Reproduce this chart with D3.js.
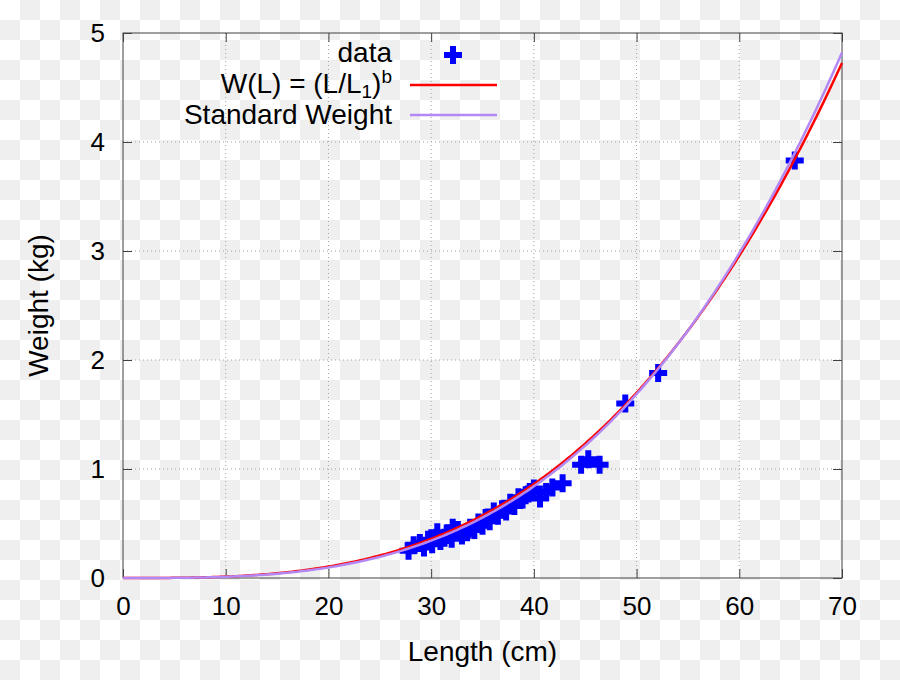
<!DOCTYPE html>
<html><head><meta charset="utf-8">
<script src="https://cdn.jsdelivr.net/npm/d3@7"></script>
<style>body{margin:0;}svg{display:block;}text{font-family:"Liberation Sans",Arial,sans-serif;fill:#000;}</style>
</head><body>
<script>
// Measured data (length cm, weight kg)
const lengths = [27.8,28.3,28.9,29.3,29.7,30.1,30.5,30.6,30.9,31.3,31.6,32.0,32.1,32.6,33.0,33.5,33.8,34.2,34.6,35.0,35.3,35.7,36.1,36.5,36.9,37.3,37.7,38.1,38.5,38.9,39.2,39.6,40.0,40.6,41.2,41.8,42.8,44.6,45.3,46.4,48.9,52.1,65.4];
const weights = [0.25,0.30,0.32,0.28,0.35,0.31,0.37,0.42,0.34,0.37,0.41,0.36,0.46,0.44,0.39,0.42,0.46,0.44,0.51,0.48,0.55,0.52,0.61,0.57,0.63,0.61,0.69,0.66,0.74,0.72,0.76,0.79,0.82,0.73,0.79,0.83,0.87,1.04,1.09,1.04,1.60,1.88,3.83];
// Model parameters
const fitParams = {L1: 42.0, b: 3.04};           // W(L) = (L/L1)^b
const stdParams = {a: 8.44e-6, b: 3.12};         // Standard weight W = a*L^b
const xTicks = [0,10,20,30,40,50,60,70];
const yTicks = [0,1,2,3,4,5];
const legendLabels = ["data", "Standard Weight"];

const W = 900, H = 680;
const m = {l:123, r:58, t:33, b:102};
const svg = d3.select("body").append("svg").attr("width",W).attr("height",H);

// checkerboard background
const defs = svg.append("defs");
const pat = defs.append("pattern").attr("id","chk").attr("width",40).attr("height",40).attr("patternUnits","userSpaceOnUse");
pat.append("rect").attr("width",40).attr("height",40).attr("fill","#ffffff");
pat.append("rect").attr("x",20).attr("y",0).attr("width",20).attr("height",20).attr("fill","#efefef");
pat.append("rect").attr("x",0).attr("y",20).attr("width",20).attr("height",20).attr("fill","#efefef");
svg.append("rect").attr("width",W).attr("height",H).attr("fill","url(#chk)");

const x = d3.scaleLinear().domain([0,70]).range([m.l, W-m.r]);
const y = d3.scaleLinear().domain([0,5]).range([H-m.b, m.t]);
const x0=x(0), x1=x(70), y0=y(0), y1=y(5);

// grid
const grid = svg.append("g").attr("stroke","#a0a0a0").attr("stroke-width",1).attr("stroke-dasharray","1,3");
xTicks.slice(1,-1).forEach(t=>grid.append("line").attr("x1",x(t)).attr("x2",x(t)).attr("y1",y0).attr("y2",y1));
yTicks.slice(1,-1).forEach(t=>grid.append("line").attr("x1",x0).attr("x2",x1).attr("y1",y(t)).attr("y2",y(t)));

// axes with inward ticks
const tl = 9, tfs = 26;
const axB = svg.append("g").attr("transform",`translate(0,${y0})`)
  .call(d3.axisBottom(x).tickValues(xTicks).tickFormat(d3.format("d")).tickSizeInner(-tl).tickSizeOuter(0).tickPadding(19));
const axT = svg.append("g").attr("transform",`translate(0,${y1})`)
  .call(d3.axisTop(x).tickValues(xTicks).tickSizeInner(-tl).tickSizeOuter(0).tickFormat(""));
const axL = svg.append("g").attr("transform",`translate(${x0},0)`)
  .call(d3.axisLeft(y).tickValues(yTicks).tickFormat(d3.format("d")).tickSizeInner(-tl).tickSizeOuter(0).tickPadding(18));
const axR = svg.append("g").attr("transform",`translate(${x1},0)`)
  .call(d3.axisRight(y).tickValues(yTicks).tickSizeInner(-tl).tickSizeOuter(0).tickFormat(""));
[axB,axT,axL,axR].forEach(g=>{
  g.selectAll(".domain").remove();
  g.selectAll(".tick line").attr("stroke","#404040");
  g.selectAll("text").attr("font-size",tfs).attr("font-family","Liberation Sans, Arial, sans-serif").attr("fill","#000");
});
svg.append("rect").attr("x",x0).attr("y",y1).attr("width",x1-x0).attr("height",y0-y1)
  .attr("fill","none").attr("stroke","#404040").attr("stroke-width",1);

// data markers
const plusPath = s => `M${-s},0H${s}M0,${-s}V${s}`;
svg.append("g").selectAll("path").data(lengths.map((L,i)=>[L,weights[i]])).join("path")
  .attr("transform",d=>`translate(${x(d[0])},${y(d[1])})`)
  .attr("d",plusPath(9)).attr("stroke","#0000ff").attr("stroke-width",6).attr("fill","none");

// curves
const Ls = d3.range(0,70.01,0.25);
const line = d3.line().x(d=>x(d[0])).y(d=>y(d[1]));
svg.append("path").datum(Ls.map(L=>[L,Math.pow(L/fitParams.L1,fitParams.b)]))
  .attr("d",line).attr("fill","none").attr("stroke","#ff0000").attr("stroke-width",2.5);
svg.append("path").datum(Ls.map(L=>[L,stdParams.a*Math.pow(L,stdParams.b)]))
  .attr("d",line).attr("fill","none").attr("stroke","#b388f5").attr("stroke-width",2.5);

// legend
const lx = 392, fs = 28;
svg.append("text").attr("x",lx).attr("y",62).attr("text-anchor","end").attr("font-size",fs).text(legendLabels[0]);
const t2 = svg.append("text").attr("x",lx).attr("y",93).attr("text-anchor","end").attr("font-size",fs);
t2.append("tspan").text("W(L) = (L/L");
t2.append("tspan").attr("font-size",19).attr("dy",5).text("1");
t2.append("tspan").attr("dy",-5).text(")");
t2.append("tspan").attr("font-size",19).attr("dy",-10).text("b");
svg.append("text").attr("x",lx).attr("y",124).attr("text-anchor","end").attr("font-size",fs).text(legendLabels[1]);
svg.append("path").attr("transform","translate(453,55)").attr("d",plusPath(9)).attr("stroke","#0000ff").attr("stroke-width",6);
svg.append("line").attr("x1",410).attr("x2",497).attr("y1",85).attr("y2",85).attr("stroke","#ff0000").attr("stroke-width",2.5);
svg.append("line").attr("x1",410).attr("x2",497).attr("y1",115).attr("y2",115).attr("stroke","#b388f5").attr("stroke-width",2.5);

// axis titles
svg.append("text").attr("x",(x0+x1)/2).attr("y",661).attr("text-anchor","middle").attr("font-size",28).text("Length (cm)");
svg.append("text").attr("transform",`translate(48,${(y0+y1)/2}) rotate(-90)`).attr("text-anchor","middle").attr("font-size",28).text("Weight (kg)");
</script>
</body></html>
